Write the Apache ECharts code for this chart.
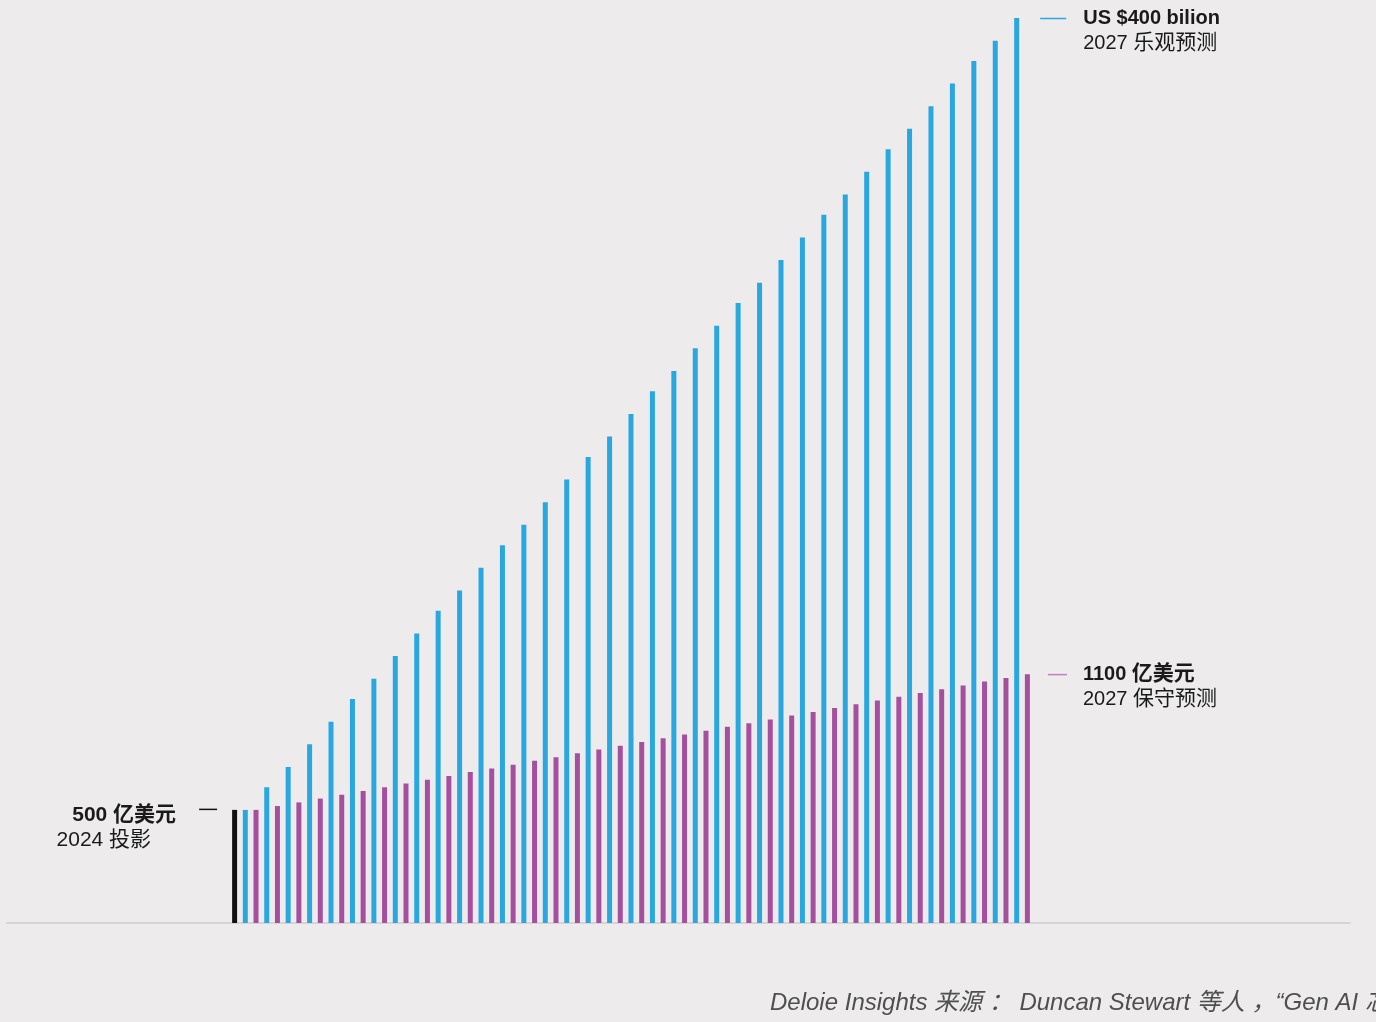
<!DOCTYPE html>
<html>
<head>
<meta charset="utf-8">
<script src="https://cdn.jsdelivr.net/npm/echarts@6/dist/echarts.min.js"></script>
<style>
  html, body { margin: 0; padding: 0; background: #edebeb; }
  #main { width: 1376px; height: 1022px; }
</style>
</head>
<body>
<div id="main"></div>
<script>
// 数据（十亿美元）
var categories = [];
for (var i = 0; i < 37; i++) categories.push('p' + i);

var base2024 = [50];
var optimistic = [50, 60, 69, 79, 89, 99, 108, 118, 128, 138, 147, 157, 167, 176, 186, 196, 206, 215, 225,
  235, 244, 254, 264, 274, 283, 293, 303, 313, 322, 332, 342, 351, 361, 371, 381, 390, 400];
var conservative = [50, 51.7, 53.3, 55, 56.7, 58.3, 60, 61.7, 63.3, 65, 66.7, 68.3, 70, 71.7, 73.3, 75, 76.7,
  78.3, 80, 81.7, 83.3, 85, 86.7, 88.3, 90, 91.7, 93.3, 95, 96.7, 98.3, 100, 101.7, 103.3, 105, 106.7, 108.3, 110];

var FONT = '"Liberation Sans", Arial, "Noto Sans CJK SC", sans-serif';
var BLUE = '#29a8e0';
var PURPLE = '#a5509f';
var BLACK = '#111111';
var INK = '#1a1a1a';

var myChart = echarts.init(document.getElementById('main'));

var lastIdx = optimistic.length - 1;

function txt(size, bold, extra) {
  var s = { fontFamily: FONT, fontSize: size, fontWeight: bold ? 'bold' : 'normal', color: INK, lineHeight: 25 };
  for (var k in extra) s[k] = extra[k];
  return s;
}

var blueData = optimistic.map(function (v, i) {
  if (i !== lastIdx) return v;
  return {
    value: v,
    label: {
      show: true,
      position: ['100%', 0],
      align: 'left',
      verticalAlign: 'top',
      offset: [21, -12],
      formatter: '{d|}{g|}{t|US $400 bilion}\n{g2|}{s|2027 }{c|乐观预测}',
      rich: {
        d: { width: 26, height: 1.5, backgroundColor: BLUE, lineHeight: 25 },
        g: { width: 17, lineHeight: 25 },
        g2: { width: 43, lineHeight: 25 },
        t: txt(20, true),
        s: txt(20, false),
        c: txt(21, false)
      }
    }
  };
});

var purpleData = conservative.map(function (v, i) {
  if (i !== lastIdx) return v;
  return {
    value: v,
    label: {
      show: true,
      position: ['100%', 0],
      align: 'left',
      verticalAlign: 'top',
      offset: [18, -12],
      formatter: '{d|}{g|}{t|1100 }{tc|亿美元}\n{g2|}{s|2027 }{c|保守预测}',
      rich: {
        d: { width: 19, height: 1.5, backgroundColor: '#c47dbf', lineHeight: 25 },
        g: { width: 16, lineHeight: 25 },
        g2: { width: 35, lineHeight: 25 },
        t: txt(20, true),
        tc: txt(21, true),
        s: txt(20, false),
        c: txt(21, false)
      }
    }
  };
});

var blackData = base2024.map(function (v) {
  return {
    value: v,
    label: {
      show: true,
      position: [0, 0],
      align: 'right',
      verticalAlign: 'top',
      offset: [-15, -18.5],
      formatter: '{t|500 亿美元}{g|}{d|}\n{s|2024 投影}{g2|}',
      rich: {
        d: { width: 18, height: 1.5, backgroundColor: BLACK, lineHeight: 36 },
        g: { width: 23, lineHeight: 36 },
        g2: { width: 66, lineHeight: 25 },
        t: { fontFamily: FONT, fontSize: 21, fontWeight: 'bold', color: INK, height: 25, verticalAlign: 'bottom' },
        s: txt(21, false)
      }
    }
  };
});

var option = {
  backgroundColor: '#edebeb',
  animation: false,
  title: {
    text: 'Deloie Insights 来源 ： Duncan Stewart 等人 ，“Gen AI 芯片',
    left: 765,
    top: 986,
    textStyle: {
      fontFamily: FONT,
      fontStyle: 'italic',
      fontWeight: 'normal',
      fontSize: 24,
      color: '#4f4f4f'
    }
  },
  grid: [
    { left: 234.6, right: 348.6, top: 18, bottom: 99 },
    { left: 7, right: 26, top: 900, bottom: 99 }
  ],
  xAxis: [
    {
      gridIndex: 0,
      type: 'category',
      data: categories,
      show: false
    },
    {
      gridIndex: 1,
      type: 'value',
      min: 0,
      max: 1,
      axisLine: { show: true, lineStyle: { color: '#d6d4d4', width: 2 } },
      axisTick: { show: false },
      axisLabel: { show: false },
      splitLine: { show: false }
    }
  ],
  yAxis: [
    { gridIndex: 0, type: 'value', min: 0, max: 400, show: false },
    { gridIndex: 1, type: 'value', min: 0, max: 1, show: false }
  ],
  series: [
    {
      name: '2024 投影',
      type: 'bar',
      data: blackData,
      barWidth: 5,
      clip: false,
      itemStyle: { color: BLACK }
    },
    {
      name: '2027 乐观预测',
      type: 'bar',
      data: blueData,
      barWidth: 5,
      clip: false,
      itemStyle: { color: BLUE }
    },
    {
      name: '2027 保守预测',
      type: 'bar',
      data: purpleData,
      barWidth: 5,
      barGap: '114%',
      clip: false,
      itemStyle: { color: PURPLE }
    }
  ]
};

myChart.setOption(option);
</script>
</body>
</html>
